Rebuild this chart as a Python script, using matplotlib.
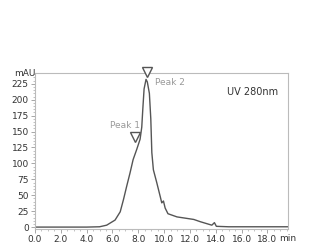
import matplotlib
matplotlib.use('Agg')
import matplotlib.pyplot as plt
from matplotlib.ticker import MultipleLocator

# chromatogram trace (min, mAU)
t = [0.0, 2.0, 4.0, 5.0, 5.55, 6.2, 6.6, 6.85, 7.1, 7.36, 7.6, 7.88, 8.14, 8.27, 8.35,
     8.45, 8.6, 8.7, 8.86, 8.97, 9.05, 9.17, 9.43, 9.7, 9.82, 9.95, 10.08, 10.3,
     11.0, 12.3, 12.8, 13.7, 13.9, 14.05, 15.0, 19.6]
mau = [0.0, 0.0, 0.0, 0.5, 3, 11, 24, 43, 64, 85, 106, 122, 138, 157, 185,
       217, 232, 228, 210, 170, 117, 90, 70, 48, 38, 41, 30, 21,
       16, 12, 8.5, 3, 7, 1.2, 0.5, 0.5]

peak_names = ['Peak 1', 'Peak 2']
peak_t = [7.75, 8.7]
peak_mark = [142, 243]
yticks = [0, 25, 50, 75, 100, 125, 150, 175, 200, 225]
xticks = [0, 2, 4, 6, 8, 10, 12, 14, 16, 18]

fig = plt.figure(figsize=(3.1, 2.5), dpi=100)
ax = fig.add_axes([0.113, 0.084, 0.816, 0.624])

ax.plot(t, mau, color='#555555', lw=1.0)
ax.plot(peak_t, peak_mark, 'v', ms=7, mfc='white', mec='#555555', mew=1.0, clip_on=False, zorder=5)

ax.text(5.8, 159, peak_names[0], color='#999999', fontsize=6.5, ha='left', va='center')
ax.text(9.3, 227, peak_names[1], color='#999999', fontsize=6.5, ha='left', va='center')
ax.text(0.96, 0.88, 'UV 280nm', transform=ax.transAxes, color='#333333', fontsize=7, ha='right', va='center')

ax.set_xlim(0, 19.6)
ax.set_ylim(-3, 242)
ax.set_xticks(xticks)
ax.set_xticklabels([f'{x:.1f}' for x in xticks])
ax.set_yticks(yticks)
ax.xaxis.set_minor_locator(MultipleLocator(0.5))
ax.yaxis.set_minor_locator(MultipleLocator(5))
ax.tick_params(which='major', length=3, width=0.6, color='#999999', labelsize=6.5, labelcolor='#333333', pad=1.5)
ax.tick_params(which='minor', length=1.5, width=0.5, color='#aaaaaa')
for s in ax.spines.values():
    s.set_color('#bbbbbb')
    s.set_linewidth(0.8)

ax.text(0, 1, 'mAU', transform=ax.transAxes, fontsize=6.5, color='#333333', ha='right', va='center')
ax.text(1.0, -0.062, 'min', transform=ax.transAxes, fontsize=6.5, color='#333333', ha='center', va='center')

fig.savefig('out.png', dpi=100)
